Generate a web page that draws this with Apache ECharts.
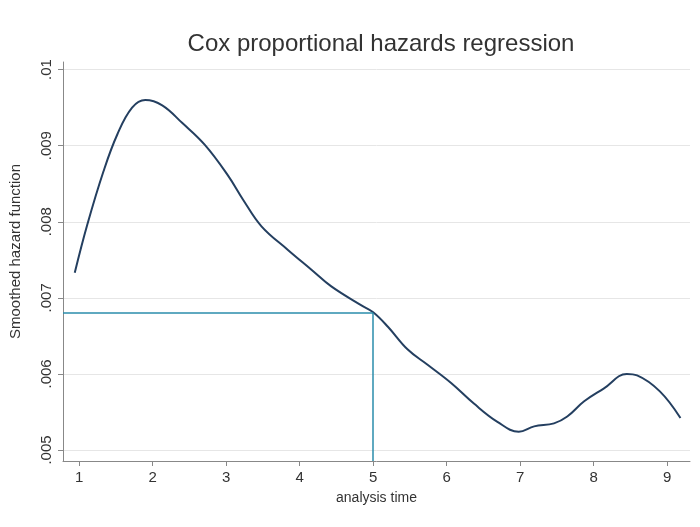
<!DOCTYPE html>
<html>
<head>
<meta charset="utf-8">
<script src="https://cdn.jsdelivr.net/npm/echarts@6/dist/echarts.min.js"></script>
<style>
	html, body { margin: 0; padding: 0; background: #fff; }
	#chart { width: 700px; height: 527px; }
</style>
</head>
<body>
<div id="chart"></div>
<script>
// analysis time
var timeValues = [0.94, 1.11, 1.33, 1.52, 1.72, 1.90, 2.13, 2.40, 2.71, 3.03, 3.23, 3.48, 3.84, 4.16, 4.43, 4.84,
	5.00, 5.20, 5.47, 5.74, 6.06, 6.37, 6.69, 6.98, 7.19, 7.46, 7.64, 7.87, 8.14, 8.45, 8.59, 8.90, 9.18];
// smoothed hazard
var hazardValues = [0.00733, 0.00796, 0.00866, 0.00915, 0.00950, 0.00960, 0.00953, 0.00930, 0.00901, 0.00860,
	0.00829, 0.00794, 0.00763, 0.00737, 0.00715, 0.00690,
	0.00681, 0.00662, 0.00632, 0.00612, 0.00588, 0.00561, 0.00537, 0.00524, 0.00531, 0.00535,
	0.00544, 0.00564, 0.00581, 0.00600, 0.00598, 0.00577, 0.00542];

var xTicks = [1, 2, 3, 4, 5, 6, 7, 8, 9];
var yTicks = [0.005, 0.006, 0.007, 0.008, 0.009, 0.01];
var yTickLabels = ['.005', '.006', '.007', '.008', '.009', '.01'];

// reference point
var refX = 5;
var refY = 0.0068;

var xMin = 0.78, xMax = 9.31;
var yMin = 0.004855, yMax = 0.0101;

var points = [];
for (var i = 0; i < timeValues.length; i++) {
	points.push([timeValues[i], hazardValues[i]]);
}

var chart = echarts.init(document.getElementById('chart'), null, { renderer: 'canvas' });

var fontName = 'Liberation Sans, Arial, sans-serif';
var axisFont = { fontFamily: fontName, fontSize: 14, color: '#333' };

chart.setOption({
	animation: false,
	backgroundColor: '#fff',
	title: {
		text: 'Cox proportional hazards regression',
		left: 376,
		top: 27,
		textAlign: 'center',
		textStyle: { fontFamily: fontName, fontSize: 24, fontWeight: 'normal', color: '#333' }
	},
	grid: { left: 61, right: 10, top: 62, bottom: 66 },
	xAxis: {
		type: 'value',
		min: xMin,
		max: xMax,
		name: 'analysis time',
		nameLocation: 'middle',
		nameGap: 30,
		nameTextStyle: axisFont,
		axisLine: { lineStyle: { color: '#888', width: 1 } },
		axisTick: { show: true, length: 5, customValues: xTicks, lineStyle: { color: '#888' } },
		axisLabel: {
			customValues: xTicks,
			margin: 9,
			fontFamily: fontName, fontSize: 15, color: '#333'
		},
		splitLine: { show: false }
	},
	yAxis: {
		type: 'value',
		min: yMin,
		max: yMax,
		name: 'Smoothed hazard function',
		nameLocation: 'middle',
		nameGap: 40,
		nameRotate: 90,
		nameTextStyle: { fontFamily: fontName, fontSize: 15, color: '#333', padding: [0, 0, 0, 20] },
		axisLine: { show: true, lineStyle: { color: '#888', width: 1 } },
		axisTick: { show: true, length: 5, customValues: yTicks, lineStyle: { color: '#888' } },
		axisLabel: {
			customValues: yTicks,
			rotate: 90,
			margin: 9,
			fontFamily: fontName, fontSize: 15, color: '#333',
			formatter: function(v) {
				for (var k = 0; k < yTicks.length; k++) {
					if (Math.abs(yTicks[k] - v) < 1e-9) return yTickLabels[k];
				}
				return '';
			}
		},
		splitLine: { show: true, lineStyle: { color: '#e6e6e6', width: 1 } }
	},
	series: [{
		type: 'line',
		data: points,
		smooth: 0.4,
		showSymbol: false,
		z: 3,
		lineStyle: { color: '#243f60', width: 2 },
		markLine: {
			silent: true,
			symbol: 'none',
			label: { show: false },
			lineStyle: { color: '#2a8cab', width: 1.5, type: 'solid' },
			data: [
				[{ coord: [xMin, refY] }, { coord: [refX, refY] }],
				[{ coord: [refX, refY] }, { coord: [refX, yMin] }]
			]
		}
	}]
});
</script>
</body>
</html>
